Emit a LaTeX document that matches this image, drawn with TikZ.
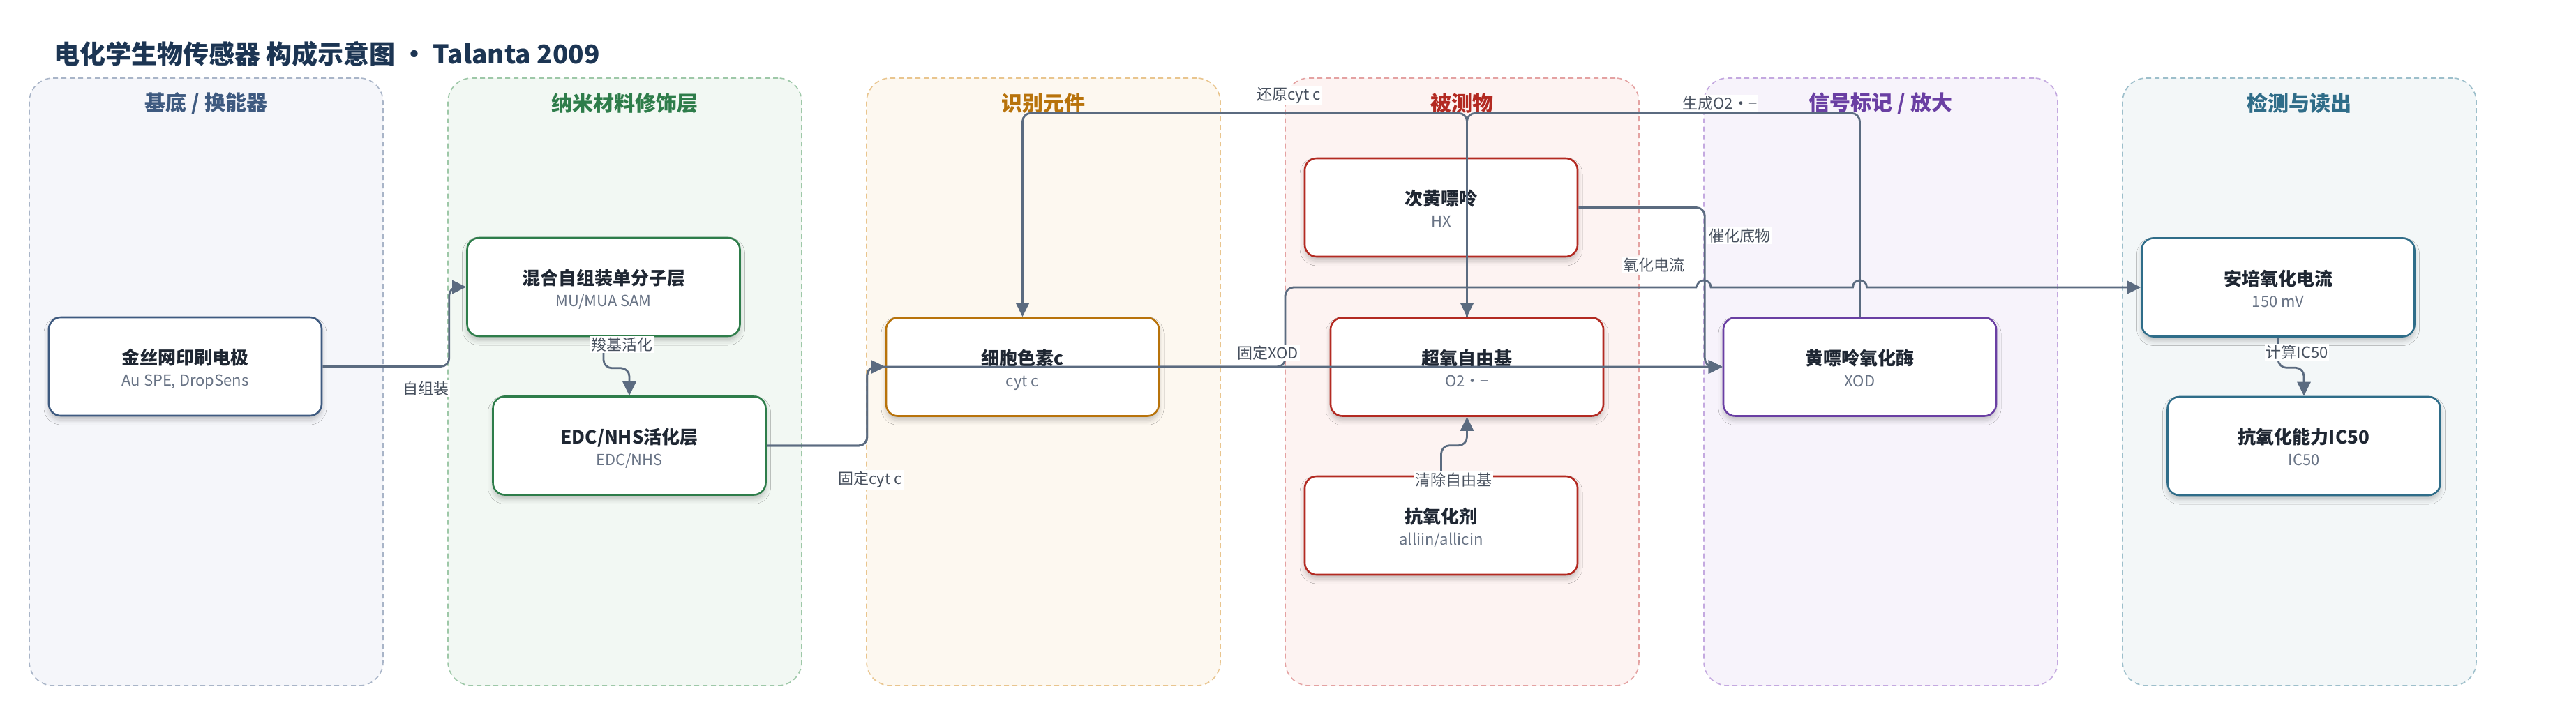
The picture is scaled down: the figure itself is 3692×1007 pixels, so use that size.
\documentclass[tikz,border=0pt]{standalone}
\usepackage{fontspec}
\setmainfont{Noto Sans CJK SC}
\usetikzlibrary{arrows.meta,shadows.blur}

\definecolor{edgec}{HTML}{5B6B80}
\definecolor{lblc}{HTML}{47505E}
\definecolor{titlec}{HTML}{1C3553}
\definecolor{ttc}{HTML}{1F2733}
\definecolor{stc}{HTML}{687385}
% panel colours: fill, border, title/node
\definecolor{pAf}{HTML}{F5F6FA}\definecolor{pAb}{HTML}{A9B5C8}\definecolor{pAt}{HTML}{3E5A80}
\definecolor{pBf}{HTML}{F2F8F3}\definecolor{pBb}{HTML}{9EC8A8}\definecolor{pBt}{HTML}{2E7D4A}
\definecolor{pCf}{HTML}{FDF8F0}\definecolor{pCb}{HTML}{E9C58E}\definecolor{pCt}{HTML}{B8730B}
\definecolor{pDf}{HTML}{FDF3F2}\definecolor{pDb}{HTML}{E4A2A2}\definecolor{pDt}{HTML}{B32A22}
\definecolor{pEf}{HTML}{F7F3FB}\definecolor{pEb}{HTML}{C4A9E0}\definecolor{pEt}{HTML}{6A3FA3}
\definecolor{pFf}{HTML}{F3F7F8}\definecolor{pFb}{HTML}{9DBFCB}\definecolor{pFt}{HTML}{2F6D89}

\newcommand\boxtxt[2]{\rule{0pt}{32pt}{\fontsize{26}{31}\selectfont\bfseries\color{ttc}#1}\\{\color{stc}#2\rule[-7pt]{0pt}{7pt}}}

\begin{document}
\begin{tikzpicture}[x=1pt,y=-1pt,
  panel/.style={dash pattern=on 7pt off 5pt, line width=1.6pt, rounded corners=34pt,
    minimum width=507pt, minimum height=871pt, inner sep=0pt},
  ptitle/.style={font=\fontsize{30}{34}\selectfont\bfseries, inner sep=0pt},
  box/.style={draw, fill=white, line width=2.6pt, rounded corners=17pt,
    minimum width=391pt, minimum height=141pt, align=center, inner sep=0pt,
    font=\fontsize{22}{31}\selectfont,
    blur shadow={shadow xshift=0pt, shadow yshift=-6pt, shadow blur radius=7pt, shadow opacity=22}},
  edge/.style={draw=edgec, line width=2.8pt, rounded corners=12pt},
  arr/.style={-{Triangle[length=20pt,width=19pt]}},
  lbl/.style={fill=white, inner sep=2pt, text=lblc, font=\fontsize{22}{26}\selectfont}
]
\useasboundingbox[fill=white] (0,0) rectangle (3692,1007);

% title
\node[anchor=west, inner sep=0pt, text=titlec, font=\fontsize{37}{42}\selectfont\bfseries] (title) at (77,77)
  {电化学生物传感器 构成示意图 • Talanta 2009};

% panels
\node[panel, draw=pAb, fill=pAf] (p1) at (295.5,547.5) {};
\node[panel, draw=pBb, fill=pBf] (p2) at (895.5,547.5) {};
\node[panel, draw=pCb, fill=pCf] (p3) at (1495.5,547.5) {};
\node[panel, draw=pDb, fill=pDf] (p4) at (2095.5,547.5) {};
\node[panel, draw=pEb, fill=pEf] (p5) at (2695.5,547.5) {};
\node[panel, draw=pFb, fill=pFf] (p6) at (3295.5,547.5) {};

\node[ptitle, text=pAt] (t1) at (295.5,148) {基底 / 换能器};
\node[ptitle, text=pBt] (t2) at (895.5,148) {纳米材料修饰层};
\node[ptitle, text=pCt] (t3) at (1495.5,148) {识别元件};
\node[ptitle, text=pDt] (t4) at (2095.5,148) {被测物};
\node[ptitle, text=pEt] (t5) at (2695.5,148) {信号标记 / 放大};
\node[ptitle, text=pFt] (t6) at (3295.5,148) {检测与读出};

% nodes
\node[box, draw=pAt] (n1)  at (265.5,525.5) {\boxtxt{金丝网印刷电极}{Au SPE, DropSens}};
\node[box, draw=pBt] (n2)  at (865,411.5)   {\boxtxt{混合自组装单分子层}{MU/MUA SAM}};
\node[box, draw=pBt] (n3)  at (902,639)     {\boxtxt{EDC/NHS活化层}{EDC/NHS}};
\node[box, draw=pCt] (cyt) at (1465.5,526)  {\boxtxt{细胞色素c}{cyt c}};
\node[box, draw=pDt] (hx)  at (2065.5,297.5){\boxtxt{次黄嘌呤}{HX}};
\node[box, draw=pDt] (sup) at (2102.5,526)  {\boxtxt{超氧自由基}{O2•−}};
\node[box, draw=pDt] (anti) at (2065.5,753.5){\boxtxt{抗氧化剂}{alliin/allicin}};
\node[box, draw=pEt] (xod) at (2665.5,526)  {\boxtxt{黄嘌呤氧化酶}{XOD}};
\node[box, draw=pFt] (amp) at (3265,412)    {\boxtxt{安培氧化电流}{150 mV}};
\node[box, draw=pFt] (ic)  at (3302,639.5)  {\boxtxt{抗氧化能力IC50}{IC50}};

% connectors
\draw[edge, arr] (n1.east) -- ++(181.5,0) |- (n2.west);
\draw[edge, arr] (n2.south) -- ++(0,44.5) -| (n3.north);
\draw[edge, arr] (n3.east) -- ++(144,0) |- (cyt.west);
\draw[edge, arr] (n3.east) -- ++(144,0) |- (xod.west);
\draw[edge, arr] (hx.east) -- ++(181,0) |- (xod.west);
\draw[edge, arr] (sup.north) -- ++(0,-292) -| (cyt.north);
\draw[edge, arr] (xod.north) -- ++(0,-292) -| (sup.north);
\draw[edge, arr] (anti.north) -- ++(0,-43) -| (sup.south);
\draw[edge, arr] (amp.south) -- ++(0,43.5) -| (ic.north);
% oxidation current with line jumps
\coordinate (j1) at (2442,412);
\coordinate (j2) at (2665.5,412);
\draw[edge] (cyt.east) -- (1842,526) -- (1842,412) -- ([xshift=-10pt]j1);
\draw[edge, sharp corners, arr] ([xshift=-10pt]j1) .. controls ([shift={(-10,-13.3)}]j1) and ([shift={(10,-13.3)}]j1) .. ([xshift=10pt]j1)
  -- ([xshift=-10pt]j2) .. controls ([shift={(-10,-13.3)}]j2) and ([shift={(10,-13.3)}]j2) .. ([xshift=10pt]j2)
  -- (amp.west);

% connector labels
\node[lbl] (l1)  at (610,557)   {自组装};
\node[lbl] (l2)  at (891,494)   {羧基活化};
\node[lbl] (l3)  at (1247,688)  {固定cyt c};
\node[lbl] (l4)  at (1817,506)  {固定XOD};
\node[lbl] (l5)  at (2370,380)  {氧化电流};
\node[lbl] (l6)  at (1847,137)  {还原cyt c};
\node[lbl] (l7)  at (2465,148)  {生成O2•−};
\node[lbl] (l8)  at (2493,338)  {催化底物};
\node[lbl] (l9)  at (2083,688)  {清除自由基};
\node[lbl] (l10) at (3292,505)  {计算IC50};
\end{tikzpicture}
\end{document}
